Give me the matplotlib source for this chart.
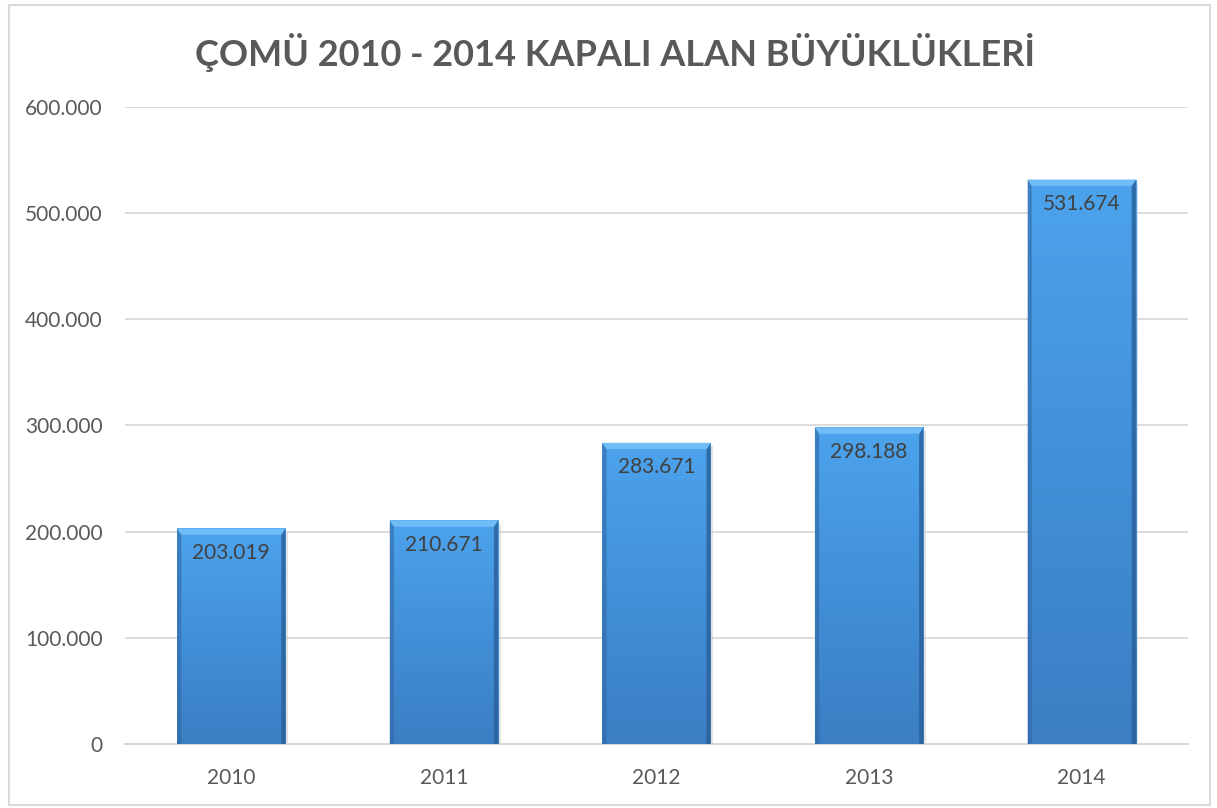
import numpy as np
import matplotlib
matplotlib.use('Agg')
import matplotlib.pyplot as plt
from matplotlib.patches import Polygon, Rectangle
from matplotlib.colors import LinearSegmentedColormap

# --- Dados ---
YILLAR = ['2010', '2011', '2012', '2013', '2014']
ALANLAR = [203019, 210671, 283671, 298188, 531674]
TITULO = 'ÇOMÜ 2010 - 2014 KAPALI ALAN BÜYÜKLÜKLERİ'

plt.rcParams['font.family'] = ['Lato', 'DejaVu Sans']


def fmt_tr(v):
    # separador de milhar com ponto
    return f'{v:,.0f}'.replace(',', '.')


fig = plt.figure(figsize=(12.17, 8.08), dpi=100)
fig.patch.set_facecolor('white')
fig.patches.append(Rectangle((0.007, 0.004), 0.987, 0.99, transform=fig.transFigure,
                             fill=False, edgecolor='#d9d9d9', linewidth=1.5))

ax = fig.add_axes([0.1027, 0.0792, 0.8735, 0.7884])
ax.set_xlim(-0.5, len(YILLAR) - 0.5)
ax.set_ylim(0, 600000)

largura = 0.51
cmap = LinearSegmentedColormap.from_list('azul', ['#3b7ec3', '#4290d8', '#4ca3ec'])
gradiente = np.linspace(0, 1, 256).reshape(-1, 1)

barras = ax.bar(range(len(YILLAR)), ALANLAR, width=largura, color='none', zorder=3)

bx = 0.02         # largura do chanfro lateral (dados)
by = 6000         # altura do chanfro superior (dados)
for i, (b, v) in enumerate(zip(barras, ALANLAR)):
    x0 = i - largura / 2
    x1 = i + largura / 2
    # sombra leve
    ax.add_patch(Rectangle((x0 + 0.012, -3000), largura, v, facecolor='#c8c8c8',
                           alpha=0.5, edgecolor='none', zorder=2))
    im = ax.imshow(gradiente, cmap=cmap, origin='lower', aspect='auto',
                   extent=(x0, x1, 0, v), zorder=3)
    im.set_clip_path(b)
    # chanfros
    ax.add_patch(Polygon([(x0, 0), (x0 + bx, 0), (x0 + bx, v - by), (x0, v)],
                         facecolor='#2f68a6', alpha=0.6, edgecolor='none', zorder=4))
    ax.add_patch(Polygon([(x1, 0), (x1 - bx, 0), (x1 - bx, v - by), (x1, v)],
                         facecolor='#2a5f99', alpha=0.8, edgecolor='none', zorder=4))
    ax.add_patch(Polygon([(x0, v), (x1, v), (x1 - bx, v - by), (x0 + bx, v - by)],
                         facecolor='#70bcf7', edgecolor='none', zorder=4))
    ax.text(i, v - 23000, fmt_tr(v), ha='center', va='center', fontsize=15,
            color='#404040', zorder=5)

ax.set_xticks(range(len(YILLAR)))
ax.set_xticklabels(YILLAR)
yt = np.arange(0, 600001, 100000)
ax.set_yticks(yt)
ax.set_yticklabels([fmt_tr(t) for t in yt])
ax.tick_params(length=0, labelsize=15, labelcolor='#595959')
ax.tick_params(axis='x', pad=17)
ax.tick_params(axis='y', pad=16)
ax.grid(axis='y', color='#d9d9d9', linewidth=1.3, zorder=0)
ax.set_axisbelow(True)
for s in ['top', 'right', 'left']:
    ax.spines[s].set_visible(False)
ax.spines['bottom'].set_color('#d9d9d9')
ax.spines['bottom'].set_linewidth(1.5)

fig.text(0.505, 0.935, TITULO, ha='center', va='center', fontsize=26,
         fontweight='bold', color='#595959')

fig.savefig('out.png', dpi=100)
